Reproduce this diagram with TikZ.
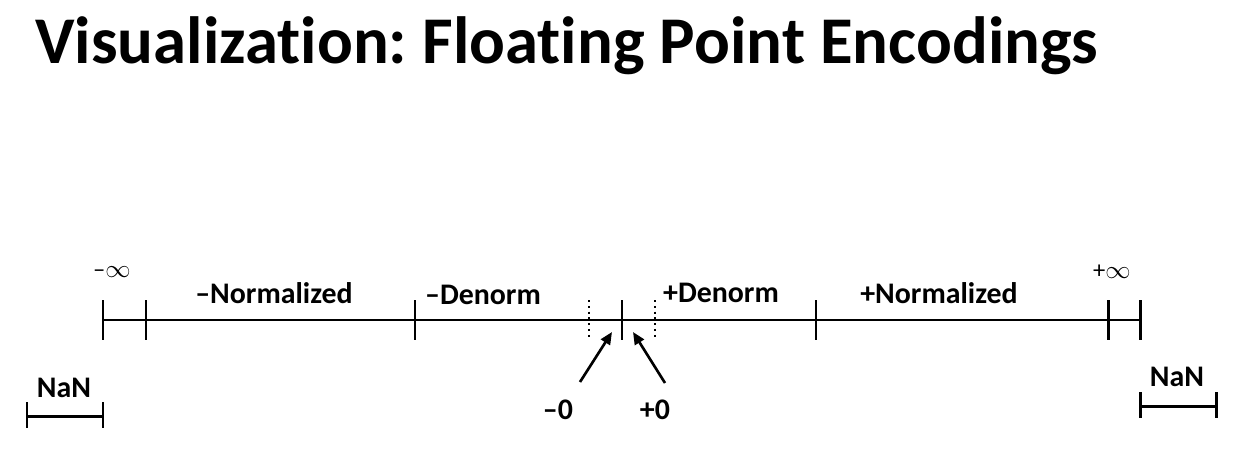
\documentclass[tikz,border=0pt]{standalone}
\usepackage{fontspec}
\setmainfont[Ligatures=NoCommon]{Carlito}
\frenchspacing
\usetikzlibrary{arrows.meta,calc,positioning}
\tikzset{
  axis/.style={line width=1.7pt},
  lbl/.style={font=\fontsize{17}{20}\selectfont\bfseries,inner sep=0pt},
  inflbl/.style={font=\fontsize{14}{16}\selectfont,inner sep=0pt},
  zeroptr/.style={line width=1.5pt,-{Triangle[length=7pt,width=6pt]}}
}

\begin{document}
\begin{tikzpicture}[x=0.02cm,y=-0.02cm]
  \useasboundingbox (0,0) rectangle (1235,474);
  \node[font=\fontsize{38}{44}\selectfont\bfseries,anchor=base west,inner sep=0pt] (title) at (35,63) {Visualization: Floating Point Encodings};
  % number line
  \coordinate (L) at (103,320);
  \coordinate (R) at (1140,320);
  \draw[axis] (L) -- (R);
  \foreach \x in {103,146,415,622,816,1108,1140}
    \draw[axis] (\x,300) -- (\x,340);
  \foreach \x in {589,655}
    \draw[line width=1.3pt,dotted] (\x,300) -- (\x,339);
  % NaN brackets
  \draw[axis] (27,416) -- (103,416);
  \foreach \x in {27,103} \draw[axis] (\x,402) -- (\x,428);
  \draw[axis] (1140,406) -- (1216,406);
  \foreach \x in {1140,1216} \draw[axis] (\x,392) -- (\x,418);
  % labels
  \node[inflbl] (minf) at (112,272) {–$\infty$};
  \node[inflbl] (pinf) at (1112,272) {+$\infty$};
  \node[lbl] (mnorm) at (274,293) {–Normalized};
  \node[lbl] (mden) at (483,295) {–Denorm};
  \node[lbl] (pden) at (721,293) {+Denorm};
  \node[lbl] (pnorm) at (939,293) {+Normalized};
  \node[lbl] (nanl) at (64,388) {NaN};
  \node[lbl] (nanr) at (1177,377) {NaN};
  \node[lbl] (mzero) at (558,410) {–0};
  \node[lbl] (pzero) at (655,410) {+0};
  \coordinate (mtip) at (612,332);
  \coordinate (ptip) at (633,332);
  \draw[zeroptr] (580,382) -- (mtip);
  \draw[zeroptr] (665,383) -- (ptip);
\end{tikzpicture}
\end{document}
